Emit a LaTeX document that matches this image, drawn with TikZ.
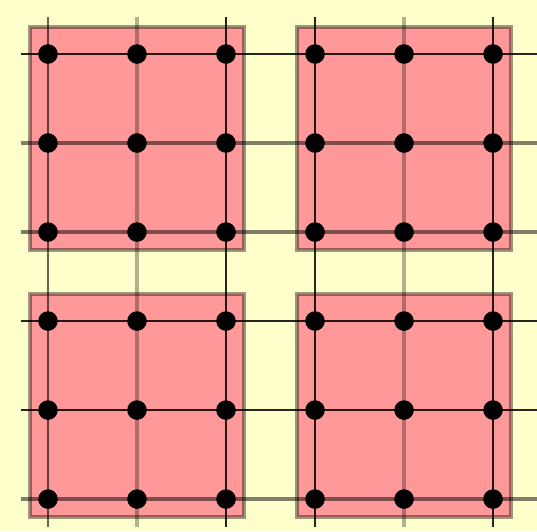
\documentclass[tikz,border=0pt]{standalone}
\usepackage{tikz}
\usetikzlibrary{positioning}
\definecolor{bgyellow}{RGB}{255,255,204}
\definecolor{cellpink}{RGB}{255,153,153}

\begin{document}
\begin{tikzpicture}[
    dot/.style={circle,fill=black,inner sep=0pt,minimum size=2.2mm},
    cell/.style={fill=cellpink,draw=black,draw opacity=0.4,line width=1.2pt},
    darkline/.style={line width=0.85pt,draw opacity=0.85},
    midline/.style={line width=0.9pt,draw opacity=0.6},
    paleline/.style={line width=1.1pt,draw opacity=0.5},
    faintline/.style={line width=1.1pt,draw opacity=0.3}]
    % background
    \fill[bgyellow] (-0.539,-0.360) rectangle (5.494,5.607);
    \useasboundingbox (-0.539,-0.360) rectangle (5.494,5.607);
    % the four squares
    \foreach \x in {0,3}
        \foreach \y in {0,3}
            \draw[cell] (\x-0.2,\y-0.2) rectangle (\x+2.2,\y+2.3);
    % free ends of the lines
    \foreach \i in {0,...,5} {
        \coordinate (w\i) at (-0.3,\i);
        \coordinate (e\i) at (5.6,\i);
        \coordinate (s\i) at (\i,-0.31);
        \coordinate (n\i) at (\i,5.42);
    }
    % horizontal lines
    \foreach \j/\sty in {0/paleline,1/darkline,2/darkline,3/paleline,4/paleline,5/darkline}
        \draw[\sty] (w\j) -- (e\j);
    % vertical lines
    \foreach \i/\sty in {0/midline,1/faintline,2/darkline,3/darkline,4/faintline,5/darkline}
        \draw[\sty] (s\i) -- (n\i);
    % dots
    \foreach \i in {0,...,5}
        \foreach \j in {0,...,5}
            \node[dot] (p\i\j) at (\i,\j) {};
\end{tikzpicture}
\end{document}
